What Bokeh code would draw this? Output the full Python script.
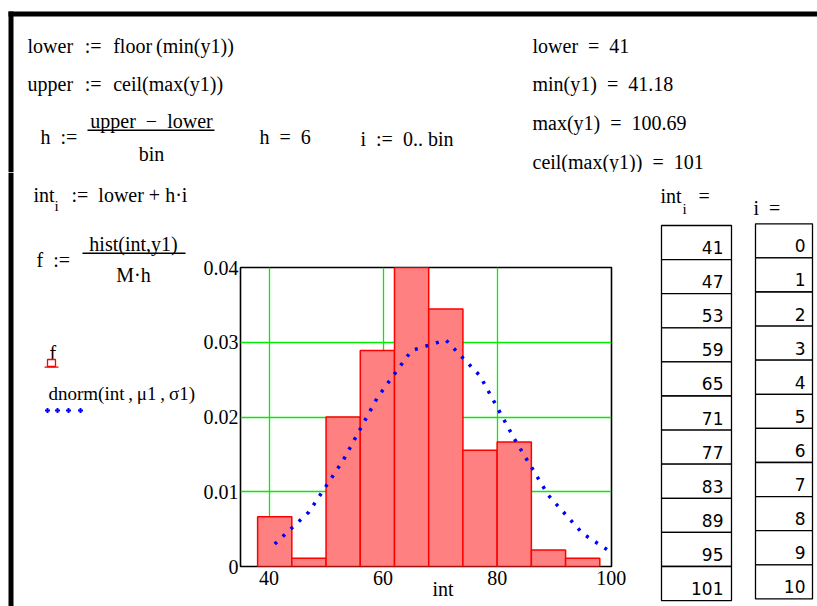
from bokeh.plotting import figure
from bokeh.models import Range1d, FixedTicker, CustomJSTickFormatter
from bokeh.layouts import column, row
from bokeh.core.properties import value
from bokeh.embed import file_html
from bokeh.resources import INLINE

# ---------------- data read from the worksheet ----------------
int_vals = [41, 47, 53, 59, 65, 71, 77, 83, 89, 95, 101]
i_vals = [0, 1, 2, 3, 4, 5, 6, 7, 8, 9, 10]
bin_centers = [41, 47, 53, 59, 65, 71, 77, 83, 89, 95]
f_vals = [0.00667, 0.00111, 0.02, 0.02889, 0.04, 0.03444, 0.01556, 0.01667, 0.00222, 0.00111]
dnorm_vals = [0.0030, 0.0073, 0.0142, 0.0226, 0.0289, 0.0303, 0.0255, 0.0171, 0.0095, 0.0044, 0.0014]
bar_width = 6
x_ticks = [40, 60, 80, 100]
y_ticks = [0, 0.01, 0.02, 0.03, 0.04]
x_grid = [40, 60, 80]
y_grid = [0.01, 0.02, 0.03]

SERIF = "Liberation Serif"
SANS = "DejaVu Sans"
FS = "20px"
SP = "\u2002"
SPA = "\u2002\u200a"
TH = "\u2009"


def sheet(x0, y0, w, h):
    """A blank worksheet panel whose data units are page pixels."""
    f = figure(width=w, height=h, x_range=Range1d(x0, x0 + w), y_range=Range1d(y0 + h, y0),
               output_backend="svg", toolbar_location=None, x_axis_type=None, y_axis_type=None,
               min_border=0, min_border_left=0, min_border_right=0, min_border_top=0,
               min_border_bottom=0, frame_align=False)
    f.outline_line_color = None
    f.background_fill_color = "white"
    f.border_fill_color = "white"
    return f


def T(f, X, Y, s, size=FS, font=SERIF, align="left", color="black"):
    f.text(x=[X], y=[Y], text=[s], text_font=value(font), text_font_size=value(size),
           text_align=align, text_baseline="alphabetic", text_color=color)


def B(f, X0, Y0, X1, Y1, fill="black", line=None, lw=1.0):
    f.quad(left=[X0], right=[X1], top=[Y0], bottom=[Y1], fill_color=fill,
           fill_alpha=1.0 if fill else 0.0, line_color=line, line_width=lw,
           line_alpha=1.0 if line else 0.0)


# ---------------- top panel: definitions and results ----------------
top = sheet(0, 0, 817, 172)
B(top, 8, 11, 817, 16)
B(top, 8, 11, 13, 172)
T(top, 27, 45, "lower" + SPA + ":=" + SPA + "floor" + TH + "(min(y1))")
T(top, 27, 83, "upper" + SPA + ":=" + SPA + "ceil(max(y1))")
T(top, 40, 136, "h" + SP + ":=")
T(top, 151, 120, "upper" + SP + "\u2212" + SP + "lower", align="center")
B(top, 87, 129, 214, 130.5)
T(top, 151, 153, "bin", align="center")
T(top, 259, 136, "h" + SP + "=" + SP + "6")
T(top, 360, 138, "i" + SP + ":=" + SP + "0.. bin")
T(top, 532, 45, "lower" + SP + "=" + SP + "41")
T(top, 532, 83, "min(y1)" + SP + "=" + SP + "41.18")
T(top, 532, 122, "max(y1)" + SP + "=" + SP + "100.69")
T(top, 532, 161, "ceil(max(y1))" + SP + "=" + SP + "101")

# ---------------- left panel: int_i, f and the legend ----------------
left = sheet(0, 172, 200, 434)
B(left, 8, 172, 13, 606)
T(left, 33, 194, "int")
T(left, 54, 205, "i", size="15px")
T(left, 61, 194, SP + ":=" + SP + "lower + h\u00b7i")
T(left, 36, 259, "f" + SP + ":=")
T(left, 133, 243, "hist(int,y1)", align="center")
B(left, 82, 252, 185, 253.5)
T(left, 133, 274, "M\u00b7h", align="center")
T(left, 49, 352, "f")
B(left, 47, 359, 55, 366, fill=None, line="#ff0000", lw=1.3)
B(left, 44, 366, 58, 367.2, fill="#ff0000")
T(left, 48, 393, "dnorm(int" + TH + "," + TH + "\u03bc1" + TH + "," + TH + "\u03c31)", size="19px")
left.scatter(x=[47, 57, 68, 80], y=[410, 410, 410, 410], marker="cross", size=5,
             line_color="#0000ff", line_width=2)

# ---------------- histogram plot ----------------
p = figure(width=455, height=434, output_backend="svg", toolbar_location=None,
           x_range=Range1d(35, 100.05), y_range=Range1d(0, 0.04),
           min_border_left=39, min_border_right=44, min_border_top=95,
           min_border_bottom=40, frame_align=False)
p.background_fill_color = "white"
p.border_fill_color = "white"
p.outline_line_color = "black"
p.outline_line_width = 1.6

p.xaxis.ticker = FixedTicker(ticks=x_ticks)
p.yaxis.ticker = FixedTicker(ticks=y_ticks)
p.yaxis.formatter = CustomJSTickFormatter(code="return tick.toFixed(2).replace(/\\.?0+$/, '')")
for ax in (p.xaxis[0], p.yaxis[0]):
    ax.axis_line_color = None
    ax.major_tick_line_color = None
    ax.minor_tick_line_color = None
    ax.major_tick_out = 0
    ax.major_tick_in = 0
    ax.major_label_text_font = SERIF
    ax.major_label_text_font_size = FS
    ax.major_label_text_color = "black"
p.xaxis.major_label_standoff = 4
p.yaxis.major_label_standoff = 2
p.xaxis.axis_label = "\u2003\u2002\u2009int"
p.xaxis.axis_label_text_font = SERIF
p.xaxis.axis_label_text_font_size = FS
p.xaxis.axis_label_text_font_style = "normal"
p.xaxis.axis_label_text_color = "black"
p.xaxis.axis_label_standoff = -10

p.xgrid.ticker = FixedTicker(ticks=x_grid)
p.ygrid.ticker = FixedTicker(ticks=y_grid)
for g in (p.xgrid[0], p.ygrid[0]):
    g.grid_line_color = "#00ee00"
    g.grid_line_width = 1.3

p.vbar(x=bin_centers, top=f_vals, width=bar_width, bottom=0,
       fill_color="#ff8080", line_color="#ff0000", line_width=1.5)
p.line(int_vals, dnorm_vals, line_color="#0000ff", line_width=3.5, line_dash="3 8")

# ---------------- right panel: value tables ----------------
right = sheet(655, 172, 162, 434)
T(right, 660, 195, "int")
T(right, 682, 208, "i", size="15px")
T(right, 688, 195, SP + "=")
T(right, 753, 207, "i" + SP + "=")
ROW = 34.1
int_tops = [225 + ROW * k for k in range(len(int_vals))]
i_tops = [223.3 + ROW * k for k in range(len(i_vals))]
right.quad(left=[661] * len(int_vals), right=[731] * len(int_vals), top=int_tops,
           bottom=[t + ROW for t in int_tops], fill_color="white", line_color="black",
           line_width=1.3)
right.quad(left=[755] * len(i_vals), right=[812] * len(i_vals), top=i_tops,
           bottom=[t + ROW for t in i_tops], fill_color="white", line_color="black",
           line_width=1.3)
right.text(x=[723] * len(int_vals), y=[t + 22 for t in int_tops], text=[str(v) for v in int_vals],
           text_font=value(SANS), text_font_size=value("17px"), text_align="right",
           text_baseline="alphabetic", text_color="black")
right.text(x=[805] * len(i_vals), y=[t + 22 for t in i_tops], text=[str(v) for v in i_vals],
           text_font=value(SANS), text_font_size=value("17px"), text_align="right",
           text_baseline="alphabetic", text_color="black")

layout = column(top, row(left, p, right))
open("out.html", "w").write(file_html(layout, INLINE))
